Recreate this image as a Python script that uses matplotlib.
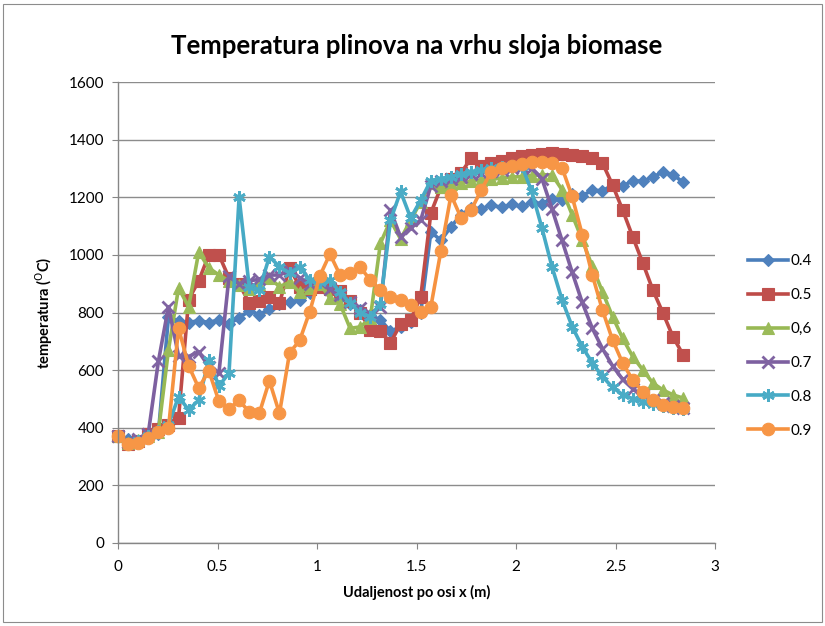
import numpy as np
import matplotlib
matplotlib.use("Agg")
import matplotlib.pyplot as plt
from matplotlib.patches import Rectangle

plt.rcParams['font.family'] = ['Lato', 'DejaVu Sans']

# x positions (m) of the 57 sample points
x_pos = np.linspace(0.0, 2.84, 57)

t_04 = [372, 362, 352, 368, 380, 785, 770, 765, 772, 765, 775, 760, 782, 805, 793, 812, 830, 836, 843, 868,
        900, 880, 850, 830, 810, 790, 775, 735, 750, 768, 800, 1080, 1050, 1098, 1139, 1163, 1160, 1172, 1165, 1175,
        1168, 1182, 1178, 1195, 1190, 1210, 1205, 1225, 1222, 1242, 1238, 1258, 1255, 1270, 1288, 1278, 1252]
t_05 = [370, 345, 355, 380, 395, 410, 434, 845, 910, 1000, 1000, 920, 900, 833, 840, 855, 833, 955, 890, 880,
        890, 880, 873, 840, 800, 740, 735, 695, 760, 775, 855, 1145, 1235, 1265, 1285, 1336, 1310, 1318, 1325, 1335,
        1342, 1347, 1350, 1352, 1350, 1348, 1342, 1336, 1319, 1243, 1156, 1063, 972, 878, 798, 715, 653]
t_06 = [370, 348, 358, 370, 385, 670, 885, 820, 1010, 955, 930, 910, 895, 880, 900, 920, 890, 905, 870, 885,
        900, 850, 830, 745, 750, 780, 1040, 1120, 1055, 1120, 1185, 1250, 1235, 1245, 1250, 1255, 1260, 1262, 1267, 1270,
        1272, 1275, 1278, 1278, 1226, 1139, 1052, 960, 872, 786, 711, 647, 601, 555, 531, 514, 503]
t_07 = [370, 350, 360, 380, 630, 820, 650, 647, 664, 612, 590, 925, 900, 910, 915, 930, 930, 945, 920, 900,
        905, 880, 860, 835, 815, 795, 820, 1155, 1062, 1095, 1121, 1240, 1255, 1265, 1270, 1280, 1285, 1290, 1295, 1300,
        1305, 1300, 1265, 1160, 1050, 940, 835, 745, 675, 615, 568, 535, 512, 497, 485, 476, 470]
t_08 = [370, 345, 355, 370, 390, 410, 508, 462, 496, 635, 545, 590, 1200, 890, 878, 994, 959, 937, 959, 913,
        905, 913, 870, 833, 798, 786, 830, 1120, 1220, 1128, 1190, 1258, 1265, 1272, 1280, 1288, 1295, 1300, 1305, 1308,
        1310, 1220, 1094, 959, 844, 751, 681, 625, 578, 540, 515, 500, 490, 482, 475, 470, 465]
t_09 = [372, 345, 348, 365, 385, 398, 745, 615, 538, 598, 492, 466, 495, 455, 450, 563, 450, 660, 703, 803,
        927, 1003, 930, 937, 957, 913, 878, 853, 842, 826, 803, 820, 1015, 1208, 1128, 1156, 1226, 1289, 1302, 1307,
        1317, 1323, 1323, 1319, 1302, 1203, 1070, 930, 809, 705, 625, 566, 525, 497, 479, 473, 468]

labels = ['0.4', '0.5', '0,6', '0.7', '0.8', '0.9']
series = [t_04, t_05, t_06, t_07, t_08, t_09]
line_colors = ['#4A7EBB', '#BE4B48', '#98B954', '#7D60A0', '#46AAC5', '#F69240']
marker_colors = ['#4F81BD', '#C0504D', '#9BBB59', '#8064A2', '#4BACC6', '#F79646']
markers = ['D', 's', '^', 'x', (6, 2, 0), 'o']
msizes = [6.5, 8.5, 8.5, 8, 9, 9]

fig = plt.figure(figsize=(8.25, 6.26), dpi=100)
ax = fig.add_axes([118/825, 1-543/626, (715-118)/825, (543-82)/626])

# outer chart border
fig.patches.append(Rectangle((3/825, 4/626), 819/825, 618/626, transform=fig.transFigure,
                             fill=False, edgecolor='#8c8c8c', linewidth=0.8))

for ys, lab, lc, mc, mk, ms in zip(series, labels, line_colors, marker_colors, markers, msizes):
    mew = 2.0 if mk in ('x', (6, 2, 0)) else 0.8
    ax.plot(x_pos, ys, color=lc, linewidth=2.6, marker=mk, markersize=ms,
            markerfacecolor=mc, markeredgecolor=mc, markeredgewidth=mew, label=lab, clip_on=False)

ax.set_xlim(0, 3)
ax.set_ylim(0, 1600)
ax.set_xticks([0, 0.5, 1, 1.5, 2, 2.5, 3])
ax.set_xticklabels(['0', '0.5', '1', '1.5', '2', '2.5', '3'])
ax.set_yticks(range(0, 1601, 200))
ax.grid(axis='y', color='#8c8c8c', linewidth=1.0)
ax.set_axisbelow(True)
for s in ['top', 'right']:
    ax.spines[s].set_visible(False)
for s in ['left', 'bottom']:
    ax.spines[s].set_color('#868686')
    ax.spines[s].set_linewidth(1.0)
ax.tick_params(axis='both', colors='#868686', labelcolor='black', labelsize=11, length=4, direction='out')
ax.tick_params(axis='x', pad=8)
ax.tick_params(axis='y', pad=6)

ax.set_title('Temperatura plinova na vrhu sloja biomase', fontsize=18.5, fontweight='bold', pad=20)
ax.set_xlabel('Udaljenost po osi x (m)', fontsize=10.5, fontweight='bold', labelpad=8)
ax.set_ylabel(r'temperatura ($^{\mathrm{O}}$C)', fontsize=10.5, fontweight='bold', labelpad=10)

leg = fig.legend(loc='center left', bbox_to_anchor=(748/825, 1-346/626), frameon=False,
                 fontsize=11, labelspacing=1.3, handlelength=2.6, handletextpad=0.2,
                 borderpad=0, borderaxespad=0)

fig.savefig('out.png', dpi=100)
